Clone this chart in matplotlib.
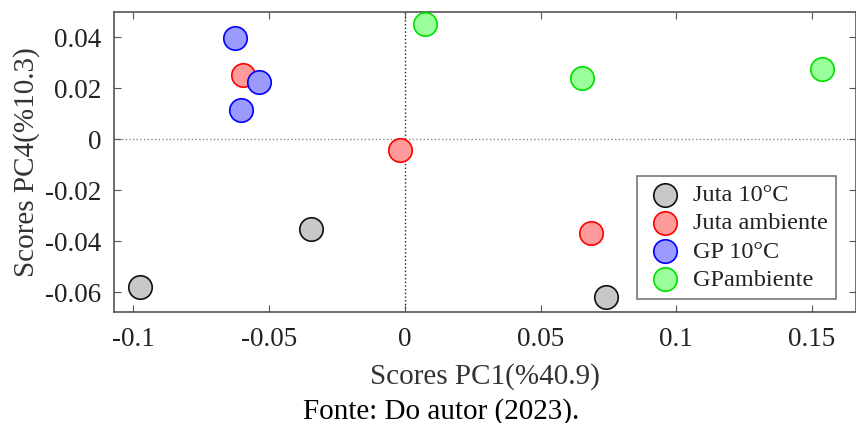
import matplotlib
matplotlib.use("Agg")
from matplotlib import pyplot as plt

plt.rcParams['font.family'] = ['Liberation Serif', 'DejaVu Serif']

# PCA scores per group (PC1, PC4)
groups = ['Juta 10°C', 'Juta ambiente', 'GP 10°C', 'GPambiente']
pc1 = {
    'Juta 10°C': [-0.0975, -0.0347, 0.0741],
    'Juta ambiente': [-0.0597, -0.0016, 0.0686],
    'GP 10°C': [-0.0626, -0.0538, -0.0604],
    'GPambiente': [0.0076, 0.0652, 0.1535],
}
pc4 = {
    'Juta 10°C': [-0.0579, -0.0352, -0.0618],
    'Juta ambiente': [0.0252, -0.0042, -0.0368],
    'GP 10°C': [0.0397, 0.0225, 0.0115],
    'GPambiente': [0.0452, 0.0240, 0.0275],
}
face = ['#c8c8c8', '#ff9a9a', '#9a9aff', '#9aff9a']
edge = ['#111111', '#ff0000', '#0000ff', '#00e000']

xticks = [-0.1, -0.05, 0, 0.05, 0.1, 0.15]
xticklabels = ['-0.1', '-0.05', '0', '0.05', '0.1', '0.15']
yticks = [-0.06, -0.04, -0.02, 0, 0.02, 0.04]
yticklabels = ['-0.06', '-0.04', '-0.02', '0', '0.02', '0.04']

fig = plt.figure(figsize=[8.56, 4.23], dpi=100)
ax = fig.add_axes([0.1332, 0.2624, 0.8668, 0.7092])

ax.axhline(0, color='#888888', linestyle=':', linewidth=1, zorder=1)
ax.axvline(0, color='#222222', linestyle=':', linewidth=1, zorder=1)

for g, fc, ec in zip(groups, face, edge):
    ax.scatter(pc1[g], pc4[g], s=285, facecolor=fc, edgecolor=ec,
               linewidth=1.2, label=g, zorder=3)

ax.set_xlim(-0.1071, 0.1662)
ax.set_ylim(-0.0678, 0.0498)
ax.set_xticks(xticks)
ax.set_xticklabels(xticklabels)
ax.set_yticks(yticks)
ax.set_yticklabels(yticklabels)
ax.tick_params(direction='in', top=True, right=True, length=5,
               labelsize=19.5, colors='#555555', labelcolor='#222222')
ax.tick_params(axis='x', pad=11)
ax.tick_params(axis='y', pad=9)
for sp in ax.spines.values():
    sp.set_color('#555555')
    sp.set_linewidth(1.2)

ax.set_xlabel('Scores PC1(%40.9)', fontsize=21, color='#333333', labelpad=8)
ax.set_ylabel('Scores PC4(%10.3)', fontsize=21, color='#333333', labelpad=4)

leg = ax.legend(loc='lower right', bbox_to_anchor=(0.9735, 0.043), fontsize=17.5,
                frameon=True, fancybox=False, edgecolor='#555555',
                borderpad=0.35, labelspacing=0.25, handletextpad=0.35,
                borderaxespad=0, handlelength=1.6, markerscale=1)
leg.get_frame().set_linewidth(1.2)
for t in leg.get_texts():
    t.set_color('#222222')

fig.text(0.515, 0.028, 'Fonte: Do autor (2023).', fontsize=21, ha='center',
         va='center', color='#000000')

fig.savefig('out.png', dpi=100)
